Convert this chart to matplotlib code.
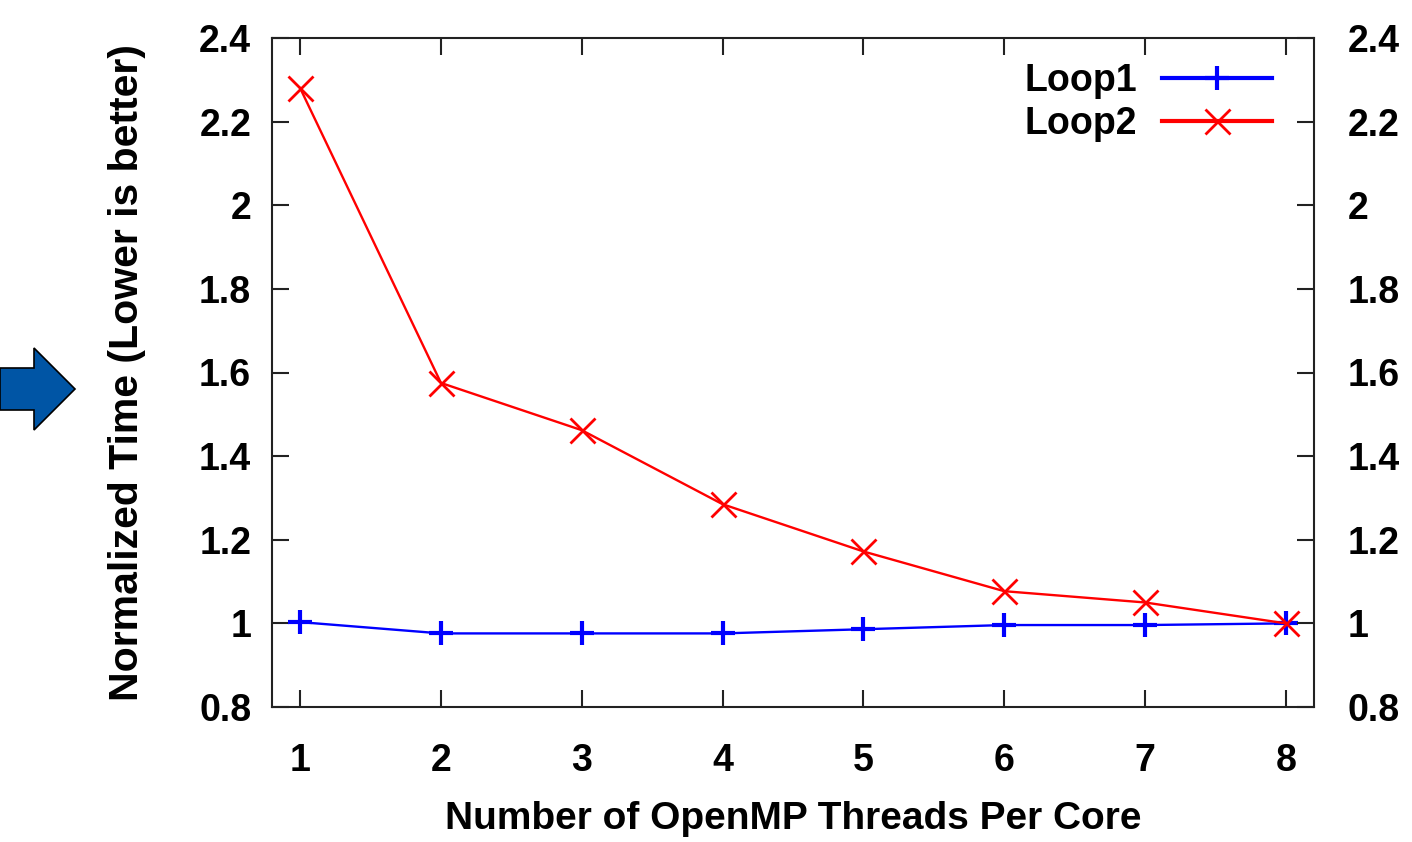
import matplotlib
matplotlib.use("Agg")
import matplotlib.pyplot as plt
from matplotlib.patches import Polygon

threads = [1, 2, 3, 4, 5, 6, 7, 8]
loop1 = [1.003, 0.976, 0.976, 0.976, 0.986, 0.996, 0.996, 1.0]
loop2 = [2.28, 1.575, 1.462, 1.285, 1.172, 1.077, 1.05, 1.0]
yticks = [0.8, 1.0, 1.2, 1.4, 1.6, 1.8, 2.0, 2.2, 2.4]
ytick_labels = ["0.8", "1", "1.2", "1.4", "1.6", "1.8", "2", "2.2", "2.4"]

plt.rcParams['font.family'] = ['Liberation Sans', 'DejaVu Sans']
plt.rcParams['font.weight'] = 'bold'

W, H = 1412, 842
fig = plt.figure(figsize=(W / 100, H / 100), dpi=100)
ax = fig.add_axes([272 / W, 1 - 707 / H, (1314 - 272) / W, (707 - 38) / H])

ax.plot(threads, loop1, color='#0000ff', lw=1.7, marker='+', ms=17, mew=3, label='Loop1')
ax.plot(threads, loop2, color='#ff0000', lw=1.7, marker='x', ms=18, mew=2, label='Loop2')

ax.set_xlim(0.8, 8.2)
ax.set_ylim(0.8, 2.4)
ax.set_xticks(threads)
ax.set_yticks(yticks)
ax.set_yticklabels(ytick_labels)

for s in ax.spines.values():
    s.set_linewidth(1.5)
    s.set_color('#222222')

TS = 27
ax.tick_params(axis='both', direction='in', length=12, width=1.5, color='#222222',
               labelsize=TS, top=True, right=True)
ax.tick_params(axis='x', pad=26)
ax.tick_params(axis='y', pad=15)

ax2 = ax.twinx()
ax2.set_ylim(ax.get_ylim())
ax2.set_yticks(yticks)
ax2.set_yticklabels(ytick_labels)
ax2.tick_params(axis='y', direction='in', length=12, width=1.5, color='#222222',
                labelsize=TS, pad=24)
for s in ax2.spines.values():
    s.set_visible(False)

ax.set_xlabel('Number of OpenMP Threads Per Core', fontsize=28, fontweight='bold', labelpad=16)
ax.set_ylabel('Normalized Time (Lower is better)', fontsize=29.5, fontweight='bold', labelpad=38)

leg = ax.legend(loc='upper right', frameon=False, markerfirst=False, fontsize=TS,
                handlelength=2.93, handletextpad=0.67, labelspacing=0.19,
                borderaxespad=0, borderpad=0, bbox_to_anchor=(0.9597, 0.9625))
for line in leg.get_lines():
    line.set_linewidth(3)

# Decorative arrow at left
arrow_px = [(0, 368), (34, 368), (34, 348), (75, 389), (34, 430), (34, 410), (0, 410)]
arrow = Polygon([(x / W, 1 - y / H) for x, y in arrow_px], closed=True,
                transform=fig.transFigure, facecolor='#0055a5', edgecolor='black', lw=1.2)
fig.patches.append(arrow)

fig.savefig('out.png', dpi=100)
